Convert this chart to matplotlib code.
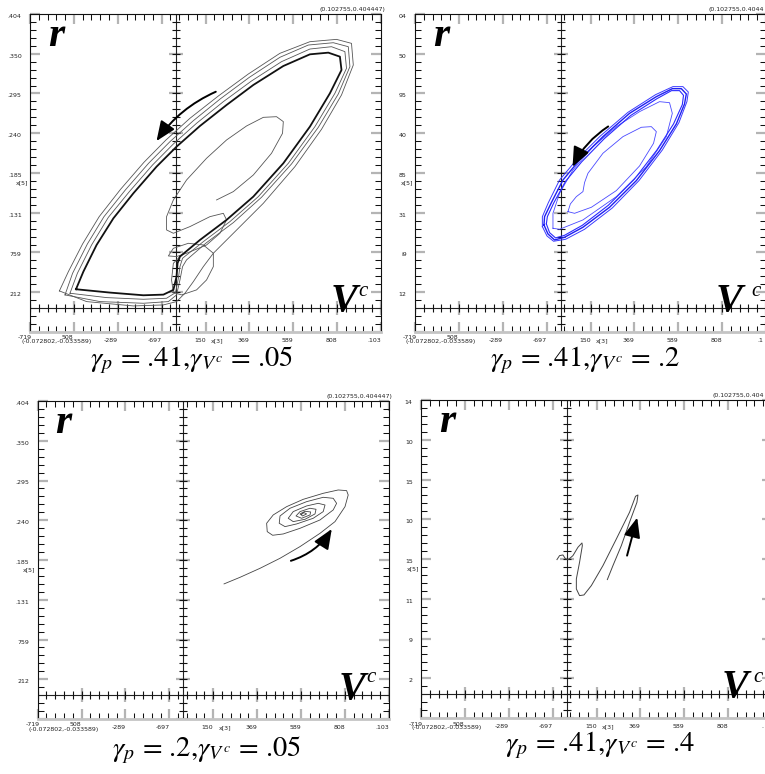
import numpy as np
import matplotlib.pyplot as plt
from matplotlib.patches import FancyArrowPatch
from matplotlib.ticker import FixedLocator

plt.rcParams['mathtext.fontset'] = 'stix'

W, H = 765, 774

# plot window of every panel: V^c and r, both in units of 1e-3
x_lo, x_hi = -72.802, 102.755
y_lo, y_hi = -33.589, 404.447

# ---------- panel 1 : gamma_p = .41, gamma_Vc = .05 ----------
p1_loop_a = [(-49.8, 25.3), (-32.8, 20.7), (-16.1, 17.0), (-6.1, 17.9), (-1.1, 24.4),
             (0.5, 42.7), (1.0, 61.1), (2.2, 70.3), (12.2, 93.2), (25.5, 120.8),
             (38.9, 152.9), (53.9, 198.8), (67.2, 249.3), (77.2, 295.2), (83.0, 327.3),
             (82.2, 345.7), (76.4, 351.2), (67.2, 348.9), (53.9, 332.8), (38.9, 306.7),
             (25.5, 279.1), (12.2, 250.2), (0.5, 221.7), (-9.5, 194.2), (-21.1, 157.5),
             (-31.1, 123.0), (-39.5, 86.3), (-46.1, 49.6), (-49.8, 25.3)]
p1_loop_b = [(-52.8, 19.8), (-34.5, 13.8), (-16.1, 11.5), (-4.5, 12.9), (0.0, 20.7),
             (1.4, 40.4), (2.2, 56.5), (3.5, 68.0), (13.9, 90.9), (27.2, 118.5),
             (41.4, 152.9), (56.4, 198.8), (69.7, 249.3), (79.7, 295.2), (85.5, 329.6),
             (84.7, 352.6), (78.0, 359.4), (67.2, 356.2), (53.0, 338.8), (38.0, 312.2),
             (23.9, 283.7), (10.5, 253.9), (-1.1, 225.4), (-11.5, 196.5), (-23.1, 159.8),
             (-33.6, 124.4), (-42.0, 86.3), (-49.1, 47.3), (-52.8, 19.8)]
p1_loop_c = [(-55.3, 17.5), (-37.8, 8.3), (-16.1, 6.0), (-3.6, 8.3), (0.5, 17.5),
             (2.2, 38.1), (3.5, 56.5), (5.5, 65.7), (15.5, 89.5), (28.9, 117.1),
             (43.0, 152.0), (58.0, 197.9), (71.4, 248.4), (81.4, 294.3), (87.2, 331.9),
             (86.4, 359.4), (78.9, 364.9), (66.4, 361.7), (52.2, 344.8), (36.9, 317.2),
             (22.5, 287.8), (8.9, 257.5), (-2.8, 228.6), (-13.5, 198.8), (-25.1, 162.1),
             (-35.8, 125.3), (-44.1, 87.7), (-51.5, 47.3), (-55.3, 17.5)]
p1_loop_d = [(-58.1, 23.0), (-44.5, 8.3), (-21.1, 2.3), (-6.1, 3.7), (0.5, 8.3),
             (4.7, 19.8), (8.9, 35.8), (13.9, 56.5), (18.9, 74.9), (28.9, 102.4),
             (43.9, 143.7), (59.7, 194.2), (73.0, 245.6), (83.0, 292.9), (88.9, 334.2),
             (88.0, 364.0), (80.5, 369.5), (67.2, 366.3), (52.2, 350.3), (36.4, 321.8),
             (21.4, 291.5), (7.2, 260.8), (-4.8, 230.9), (-15.8, 200.2), (-27.5, 163.0),
             (-38.2, 125.3), (-46.5, 87.7), (-53.6, 49.6), (-58.1, 23.0)]
p1_transient = [(20.5, 148.3), (28.9, 159.8), (38.9, 182.7), (48.0, 212.6), (53.5, 240.1),
                (53.9, 256.2), (50.5, 263.0), (43.9, 262.1), (35.5, 250.2), (25.5, 230.9),
                (15.5, 205.7), (5.5, 175.8), (-1.1, 148.3), (-4.5, 125.3), (-4.5, 107.0),
                (-1.1, 102.4), (7.2, 111.6), (17.2, 125.3), (23.9, 129.9), (25.5, 120.8),
                (22.2, 102.4), (15.5, 86.3), (5.5, 74.9), (0.5, 70.3), (-3.6, 71.2),
                (-1.1, 81.7), (6.4, 88.6), (13.9, 86.3), (18.9, 74.9), (18.9, 56.5),
                (15.5, 38.1), (10.5, 24.4), (3.0, 17.5), (-1.1, 20.7), (-2.0, 38.1),
                (-1.1, 61.1), (2.2, 70.3)]
p1_arrow = [(21.4, 298.9), (-10.3, 226.3)]

# ---------- panel 2 : gamma_p = .41, gamma_Vc = .2 ----------
p2_loop_a = [(-8.3, 113.9), (-6.3, 101.5), (-3.0, 93.2), (2.0, 96.9), (11.2, 110.7),
             (24.5, 138.2), (37.9, 174.9), (49.5, 216.2), (57.9, 253.0), (62.0, 280.5),
             (62.9, 294.3), (60.4, 301.6), (55.9, 301.6), (47.9, 290.6), (34.5, 267.6),
             (21.2, 235.5), (9.5, 203.4), (1.2, 175.8), (-4.6, 144.6), (-8.0, 125.3),
             (-8.3, 113.9)]
p2_loop_b = [(-9.1, 111.6), (-6.8, 98.7), (-3.5, 91.4), (2.5, 94.1), (12.0, 107.9),
             (25.9, 137.3), (39.2, 174.9), (50.9, 217.1), (59.2, 254.8), (63.2, 283.7),
             (63.9, 297.0), (61.2, 304.4), (56.2, 304.4), (47.5, 293.3), (33.7, 269.0),
             (19.9, 236.4), (8.2, 204.3), (-0.5, 175.8), (-6.1, 144.6), (-9.1, 125.3),
             (-9.1, 111.6)]
p2_loop_c = [(-7.1, 115.3), (-5.5, 103.3), (-2.5, 96.0), (2.0, 99.6), (10.9, 113.4),
             (23.9, 141.0), (36.9, 176.8), (48.2, 217.1), (56.5, 253.0), (60.9, 279.6),
             (61.5, 292.4), (59.5, 298.9), (55.5, 298.9), (48.2, 287.8), (35.2, 264.9),
             (21.9, 232.8), (10.5, 200.6), (2.5, 174.0), (-3.5, 143.7), (-6.6, 125.3),
             (-7.1, 115.3)]
p2_loop_d = [(-3.8, 109.3), (-0.5, 107.9), (11.2, 120.8), (27.9, 152.9), (42.9, 194.2),
             (52.9, 235.5), (55.9, 267.6), (54.5, 282.3), (49.5, 283.7), (39.5, 269.9),
             (27.9, 249.3), (16.2, 221.7), (6.2, 189.6), (-0.5, 157.5), (-3.8, 129.9),
             (-3.8, 109.3)]
p2_loop_e = [(3.7, 132.2), (7.0, 129.9), (15.4, 138.2), (27.9, 161.2), (39.5, 195.1),
             (46.5, 226.3), (47.9, 242.4), (45.4, 249.3), (40.4, 248.4), (31.2, 235.5),
             (21.2, 212.6), (13.7, 185.0), (12.0, 172.2), (11.2, 159.8), (7.9, 152.9),
             (4.9, 142.8), (3.7, 132.2)]
p2_arrow = [(25.0, 251.6), (5.4, 190.5)]

# ---------- panel 3 : gamma_p = .2, gamma_Vc = .05 ----------
p3_spiral = [(20.4, 152.5), (28.4, 161.6), (38.4, 174.0), (48.4, 187.8), (58.4, 203.9),
             (68.4, 222.2), (75.9, 238.3), (80.9, 258.9), (82.5, 275.0), (81.7, 281.0),
             (77.5, 281.9), (70.0, 277.3), (60.0, 269.0), (51.7, 258.9), (45.0, 247.5),
             (41.7, 236.0), (42.0, 224.5), (44.7, 219.5), (50.0, 221.3), (58.4, 229.1),
             (68.4, 240.6), (75.0, 254.4), (76.7, 263.5), (75.0, 270.4), (70.0, 271.8),
             (61.7, 265.8), (53.4, 256.7), (48.4, 246.1), (48.0, 236.0), (50.9, 231.4),
             (56.7, 235.1), (65.0, 242.9), (70.0, 252.1), (70.9, 261.2), (67.5, 263.5),
             (61.7, 259.9), (55.0, 252.1), (52.5, 242.9), (55.0, 238.3), (60.9, 241.5),
             (65.9, 248.9), (66.4, 255.3), (63.4, 256.7), (58.4, 252.1), (56.4, 246.1),
             (59.2, 242.9), (63.4, 247.5), (63.7, 251.6), (60.9, 252.5), (58.4, 248.9),
             (59.7, 246.1), (61.7, 248.9), (60.4, 250.7), (59.2, 248.4)]
p3_arrow = [(52.5, 183.2), (75.0, 231.4)]

# ---------- panel 4 : gamma_p = .41, gamma_Vc = .4 ----------
p4_curve = [(-4.8, 184.6), (-3.5, 190.1), (-1.8, 191.0), (-0.5, 185.5), (0.9, 184.6),
            (3.2, 190.1), (5.7, 201.6), (7.7, 207.5), (7.9, 203.9), (6.5, 180.9),
            (4.9, 158.0), (4.9, 144.2), (6.5, 135.0), (8.7, 135.9), (12.4, 148.8),
            (18.2, 176.3), (24.9, 213.0), (31.5, 249.8), (34.5, 271.8), (35.7, 273.6),
            (35.2, 263.5), (31.5, 236.0), (27.4, 203.9), (23.2, 176.3), (20.4, 157.1)]
p4_arrow = [(29.9, 186.4), (35.7, 246.1)]

# tick texts as they show in each screenshot
x_labels_full = ['', '', '-289', '-697', '150', '369', '589', '808', '.103']
x_labels_cut = ['', '', '-289', '-697', '150', '369', '589', '808', '']
y_labels_full = ['', '212', '759', '.131', '.185', '.240', '.295', '.350', '.404']
y_labels_p2 = ['', '12', 'i9', '31', '85', '40', '95', '50', '04']
y_labels_p4 = ['', '2', '9', '11', '15', '10', '15', '10', '14']
titles = [r'$\gamma_p$ = .41,$\gamma_{V^c}$ = .05', r'$\gamma_p$ = .41,$\gamma_{V^c}$ = .2',
          r'$\gamma_p$ = .2,$\gamma_{V^c}$ = .05', r'$\gamma_p$ = .41,$\gamma_{V^c}$ = .4']
corner_texts = ['(0.102755,0.404447)', '(0.102755,0.4044', '(0.102755,0.404447)', '(0.102755,0.404']

fig = plt.figure(figsize=(W / 100, H / 100), dpi=100)
fig.patch.set_facecolor('white')

TICK_GRAY = '#b4b4b4'


def fpos(x, y):
    return x / W, 1 - y / H


def make_panel(left, top, ylabels, xlabels, title, title_xy, corner, v_dx=0, last_x=None):
    width, height = 351, 318
    ax = fig.add_axes([left / W, 1 - (top + height) / H, width / W, height / H])
    ax.set_xlim(x_lo, x_hi)
    ax.set_ylim(y_lo, y_hi)
    xmaj = np.linspace(x_lo, x_hi, 9)
    ymaj = np.linspace(y_lo, y_hi, 9)
    xmin = np.linspace(x_lo, x_hi, 41)
    ymin = np.linspace(y_lo, y_hi, 41)
    ax.set_xticks(xmaj, xlabels)
    ax.set_yticks(ymaj, ylabels)
    ax.xaxis.set_minor_locator(FixedLocator(xmin))
    ax.yaxis.set_minor_locator(FixedLocator(ymin))
    ax.tick_params(which='both', direction='in', top=True, right=True,
                   labelsize=4.5, labelcolor='#222')
    ax.tick_params(which='major', length=7, width=1.6, color=TICK_GRAY)
    ax.tick_params(which='minor', length=4, width=0.75, color='#111')
    ax.tick_params(axis='x', pad=4)
    ax.tick_params(axis='y', pad=6)
    for t in ax.get_xticklabels():
        t.set_ha('right')
    for t in ax.get_yticklabels():
        t.set_va('top')
    for s in ['left', 'top', 'right']:
        ax.spines[s].set_linewidth(0.8)
        ax.spines[s].set_color('#111')
    ax.spines['bottom'].set_color('#c4c4c4')
    ax.spines['bottom'].set_linewidth(2.0)

    # the crossing axes with their own ticks
    ax.plot(xmaj, np.zeros_like(xmaj), ls='none', marker='|', ms=9.5, mew=1.6,
            color=TICK_GRAY, zorder=1)
    ax.plot(np.zeros_like(ymaj), ymaj, ls='none', marker='_', ms=10, mew=1.6,
            color=TICK_GRAY, zorder=1)
    ax.axhline(0, color='#222', lw=0.8, zorder=2)
    ax.axvline(0, color='#222', lw=0.8, zorder=2)
    ax.plot(xmin, np.zeros_like(xmin), ls='none', marker='|', ms=5.5, mew=0.8,
            color='#111', zorder=2)
    ax.plot(np.zeros_like(ymin), ymin, ls='none', marker='_', ms=6, mew=0.8,
            color='#111', zorder=2)

    # small screen texts
    tiny = dict(fontsize=4.5, color='#222')
    corner_x = min(left + width + 4, W - 1)
    fig.text(*fpos(corner_x, top - 2), corner, ha='right', va='bottom', **tiny)
    fig.text(*fpos(left - 9, top + height + 10), '(-0.072802,-0.033589)', ha='left', va='center', **tiny)
    fig.text(*fpos(left - 12, top + height + 6), '-719', ha='left', va='center', **tiny)
    fig.text(*fpos(left + 32, top + height + 6), '508', ha='left', va='center', **tiny)
    fig.text(*fpos(left + 181, top + height + 9), 'x[3]', ha='left', va='center', **tiny)
    fig.text(*fpos(left - 2, top + 169), 'x[5]', ha='right', va='center', **tiny)
    if last_x:
        fig.text(*fpos(W - 2, top + height + 9), last_x, ha='right', va='center', **tiny)

    # axis names
    fig.text(*fpos(left + 26, top + 22), 'r', family='Liberation Serif', weight='bold',
             style='italic', fontsize=30, ha='center', va='center')
    fig.text(*fpos(left + 314, top + 288), 'V', family='Liberation Serif', weight='bold',
             style='italic', fontsize=29, ha='center', va='center')
    fig.text(*fpos(left + 333 + v_dx, top + 277), 'c', family='Liberation Serif',
             style='italic', fontsize=15, ha='center', va='center')

    fig.text(*fpos(*title_xy), title, family='STIXGeneral', fontsize=20.5,
             ha='center', va='center')
    return ax


def draw(ax, pts, color, lw):
    xy = np.array(pts)
    ax.plot(xy[:, 0], xy[:, 1], color=color, lw=lw, zorder=3)


def arrow(ax, pts, rad):
    a = FancyArrowPatch(pts[0], pts[1], connectionstyle='arc3,rad=%s' % rad,
                        arrowstyle='-|>,head_length=1.2,head_width=0.5',
                        mutation_scale=10, color='k', lw=1.4, zorder=4)
    ax.add_patch(a)


ax1 = make_panel(30, 14, y_labels_full, x_labels_full, titles[0], (192, 360), corner_texts[0])
for loop in [p1_loop_b, p1_loop_c, p1_loop_d]:
    draw(ax1, loop, '#555555', 0.6)
draw(ax1, p1_transient, '#555555', 0.6)
draw(ax1, p1_loop_a, '#111111', 1.3)
arrow(ax1, p1_arrow, 0.15)

ax2 = make_panel(415, 14, y_labels_p2, x_labels_cut, titles[1], (585, 360), corner_texts[1],
                 v_dx=8, last_x='.1')
draw(ax2, p2_loop_d, '#4a4aff', 0.6)
draw(ax2, p2_loop_e, '#4a4aff', 0.6)
draw(ax2, p2_loop_b, '#3a3aff', 0.7)
draw(ax2, p2_loop_a, '#1f1ff0', 1.0)
draw(ax2, p2_loop_c, '#2a2aff', 0.8)
arrow(ax2, p2_arrow, 0.15)

ax3 = make_panel(37.7, 401, y_labels_full, x_labels_full, titles[2], (207, 750), corner_texts[2])
draw(ax3, p3_spiral, '#444444', 0.6)
arrow(ax3, p3_arrow, 0.2)

ax4 = make_panel(421, 400, y_labels_p4, x_labels_cut, titles[3], (600, 745), corner_texts[3],
                 v_dx=4, last_x='.')
draw(ax4, p4_curve, '#444444', 0.7)
arrow(ax4, p4_arrow, 0.0)

fig.savefig('out.png', dpi=100)
